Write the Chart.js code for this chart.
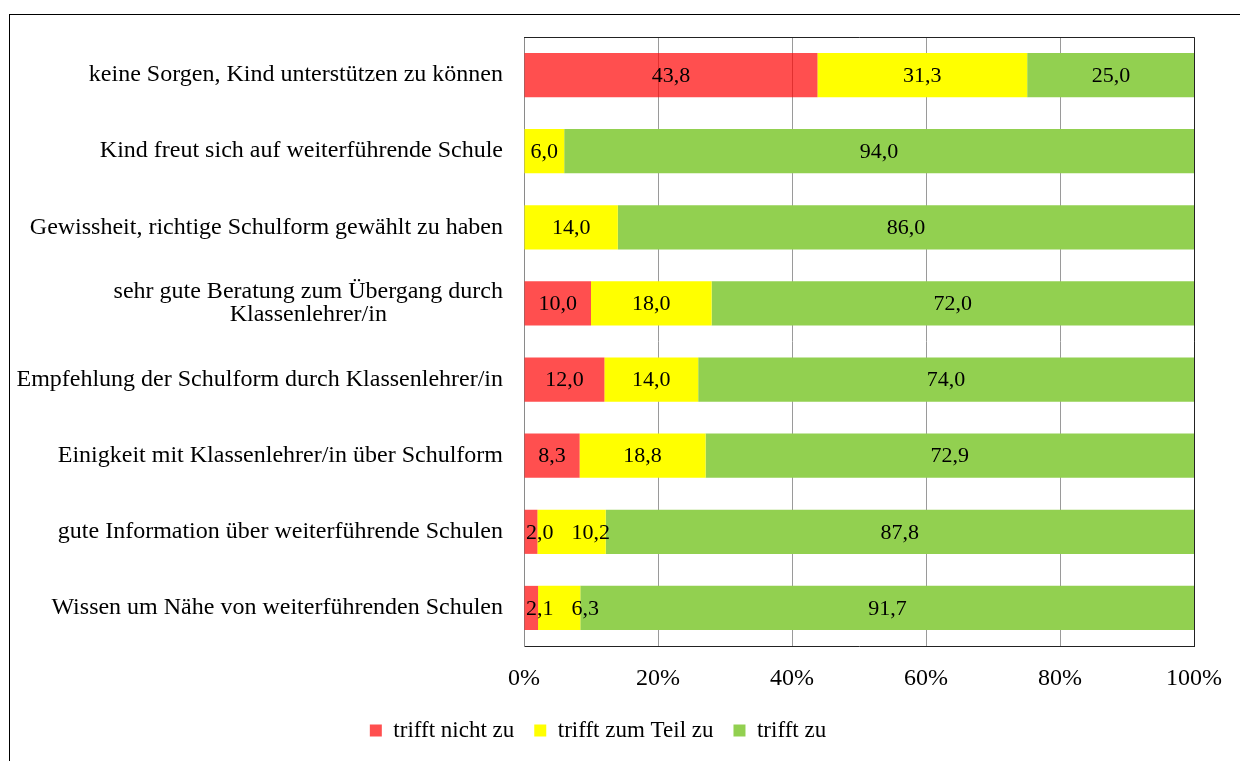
<!DOCTYPE html>
<html>
<head>
<meta charset="utf-8">
<script src="https://cdn.jsdelivr.net/npm/chart.js@4"></script>
<style>
  body { margin: 0; background: #fff; }
  #wrap { width: 1240px; height: 761px; }
</style>
</head>
<body>
<div id="wrap"><canvas id="chart" width="1240" height="761"></canvas></div>
<script>
// category labels (top to bottom)
const categories = [
    'keine Sorgen, Kind unterstützen zu können',
    'Kind freut sich auf weiterführende Schule',
    'Gewissheit, richtige Schulform gewählt zu haben',
    ['sehr gute Beratung zum Übergang durch', 'Klassenlehrer/in'],
    'Empfehlung der Schulform durch Klassenlehrer/in',
    'Einigkeit mit Klassenlehrer/in über Schulform',
    'gute Information über weiterführende Schulen',
    'Wissen um Nähe von weiterführenden Schulen'
];

// percent values per answer
const nichtZu = [43.8, 0, 0, 10.0, 12.0, 8.3, 2.0, 2.1];
const zumTeil = [31.3, 6.0, 14.0, 18.0, 14.0, 18.8, 10.2, 6.3];
const zu = [25.0, 94.0, 86.0, 72.0, 74.0, 72.9, 87.8, 91.7];

const seriesNames = ['trifft nicht zu', 'trifft zum Teil zu', 'trifft zu'];
const xTicks = [0, 20, 40, 60, 80, 100];

const serif = '"Liberation Serif", "Times New Roman", serif';

// outer frame of the chart object
const outerFrame = {
    id: 'outerFrame',
    beforeDraw: (chart) => {
        const ctx = chart.ctx;
        ctx.save();
        ctx.strokeStyle = '#000';
        ctx.lineWidth = 1;
        ctx.strokeRect(9.5, 14.5, chart.width + 50, chart.height + 50);
        ctx.restore();
    }
};

// top and right edge of the plot area
const plotBorder = {
    id: 'plotBorder',
    afterDraw: (chart) => {
        const a = chart.chartArea;
        const ctx = chart.ctx;
        ctx.save();
        ctx.strokeStyle = '#222';
        ctx.lineWidth = 1;
        ctx.beginPath();
        ctx.moveTo(a.left, Math.round(a.top) + 0.5);
        ctx.lineTo(Math.round(a.right) + 0.5, Math.round(a.top) + 0.5);
        ctx.lineTo(Math.round(a.right) + 0.5, a.bottom);
        ctx.stroke();
        ctx.restore();
    }
};

// category labels, right aligned, wrapped lines centred on each other
const catLabels = {
    id: 'catLabels',
    afterDraw: (chart) => {
        const ctx = chart.ctx;
        const yScale = chart.scales.y;
        const xRight = chart.chartArea.left - 21;
        const lineH = 23;
        ctx.save();
        ctx.font = '24px ' + serif;
        ctx.fillStyle = '#000';
        ctx.textBaseline = 'middle';
        categories.forEach((lab, i) => {
            const y = yScale.getPixelForValue(i);
            if (Array.isArray(lab)) {
                const widest = Math.max(...lab.map(l => ctx.measureText(l).width));
                ctx.textAlign = 'center';
                lab.forEach((l, k) => {
                    ctx.fillText(l, xRight - widest / 2, y + (k - (lab.length - 1) / 2) * lineH);
                });
            } else {
                ctx.textAlign = 'right';
                ctx.fillText(lab, xRight, y);
            }
        });
        ctx.restore();
    }
};

// value labels in the middle of each segment, nudged apart when they collide
const valueLabels = {
    id: 'valueLabels',
    afterDatasetsDraw: (chart) => {
        const ctx = chart.ctx;
        const left = chart.chartArea.left;
        ctx.save();
        ctx.font = '22px ' + serif;
        ctx.fillStyle = '#000';
        ctx.textAlign = 'left';
        ctx.textBaseline = 'middle';
        chart.data.labels.forEach((_, j) => {
            let prevEnd = -Infinity;
            chart.data.datasets.forEach((ds, i) => {
                const v = ds.data[j];
                if (!v) return;
                const bar = chart.getDatasetMeta(i).data[j];
                const p = bar.getProps(['x', 'y', 'base'], true);
                const txt = v.toFixed(1).replace('.', ',');
                const w = ctx.measureText(txt).width;
                let x0 = (p.x + p.base) / 2 - w / 2;
                x0 = Math.max(x0, left + 2, prevEnd + 18);
                ctx.fillText(txt, x0, p.y + 1);
                prevEnd = x0 + w;
            });
        });
        ctx.restore();
    }
};

new Chart(document.getElementById('chart'), {
    type: 'bar',
    data: {
        labels: categories,
        datasets: [
            { label: seriesNames[0], data: nichtZu, backgroundColor: 'rgba(255,0,0,0.69)' },
            { label: seriesNames[1], data: zumTeil, backgroundColor: '#FFFF00' },
            { label: seriesNames[2], data: zu, backgroundColor: '#92D050' }
        ]
    },
    options: {
        indexAxis: 'y',
        responsive: false,
        animation: false,
        layout: { padding: { top: 37, right: 44, left: 0, bottom: 9 } },
        datasets: { bar: { categoryPercentage: 1, barPercentage: 0.58, borderWidth: 0 } },
        scales: {
            x: {
                stacked: true,
                min: 0,
                max: 100,
                afterBuildTicks: (s) => { s.ticks = xTicks.map(v => ({ value: v })); },
                afterFit: (s) => { s.height = 53; },
                ticks: {
                    padding: 18,
                    color: '#000',
                    font: { family: serif, size: 24 },
                    callback: (v) => v + '%'
                },
                grid: { color: '#9a9a9a', drawTicks: false },
                border: { color: '#222' }
            },
            y: {
                stacked: true,
                afterFit: (s) => { s.width = 524; },
                ticks: { display: false },
                grid: { display: false, drawTicks: false },
                border: { color: '#8a8a8a' }
            }
        },
        plugins: {
            legend: {
                position: 'bottom',
                labels: {
                    color: '#000',
                    font: { family: serif, size: 23 },
                    boxWidth: 12,
                    boxHeight: 12,
                    padding: 20
                }
            },
            tooltip: { enabled: false }
        }
    },
    plugins: [outerFrame, plotBorder, catLabels, valueLabels]
});
</script>
</body>
</html>
